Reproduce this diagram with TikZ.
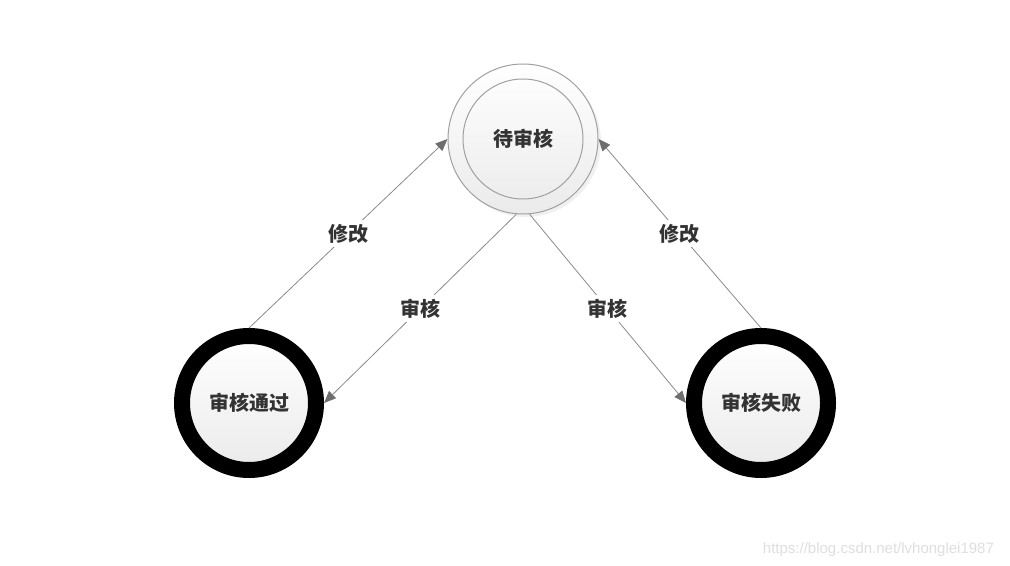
\documentclass[tikz,border=0pt]{standalone}
\usepackage{fontspec}
\setmainfont{Liberation Sans}
\newfontfamily\cjk{Noto Sans CJK SC}
\usepackage{tikz}
\usetikzlibrary{arrows.meta,shadows}

\definecolor{txtgray}{HTML}{333333}
\definecolor{linegray}{HTML}{8A8A8A}
\definecolor{tipgray}{HTML}{6E6E6E}
\definecolor{rimgray}{HTML}{A0A0A0}

\begin{document}
\begin{tikzpicture}[
  x=0.5pt, y=-0.5pt,
  font=\cjk\bfseries\fontsize{10}{12}\selectfont, text=txtgray,
  pend/.style={circle, draw=rimgray, line width=0.5pt, minimum size=75pt, inner sep=0pt,
    top color=white, bottom color=black!8,
    drop shadow={opacity=0.12, shadow xshift=1.5pt, shadow yshift=-1.5pt}},
  final/.style={circle, draw=black, line width=8pt, minimum size=67pt, inner sep=0pt,
    top color=white, bottom color=black!8,
    drop shadow={opacity=0.12, shadow xshift=1.5pt, shadow yshift=-1.5pt}},
  trans/.style={draw=linegray, line width=0.4pt, -{Triangle[length=6pt,width=5pt,color=tipgray]}},
  lbl/.style={fill=white, inner sep=2pt},
]
\useasboundingbox (0,0) rectangle (1010,566);

% states
\node[pend] (pending) at (523,139) {待审核};
\draw[rimgray, line width=0.5pt] (pending.center) circle (30pt);
\node[final] (passed) at (249,403) {审核通过};
\node[final] (failed) at (761,403) {审核失败};

% transitions
\draw[trans] (passed.north) -- node[lbl] {修改} (pending.west);
\draw[trans] (failed.north) -- node[lbl] {修改} (pending.east);
\draw[trans] (pending.-95) -- node[lbl] {审核} (passed.east);
\draw[trans] (pending.-85) -- node[lbl] {审核} (failed.west);

\node[font=\mdseries\fontsize{7.5}{9}\selectfont, text=black!13, anchor=base east] (mark) at (1001,553) {https://blog.csdn.net/lvhonglei1987};
\end{tikzpicture}
\end{document}
